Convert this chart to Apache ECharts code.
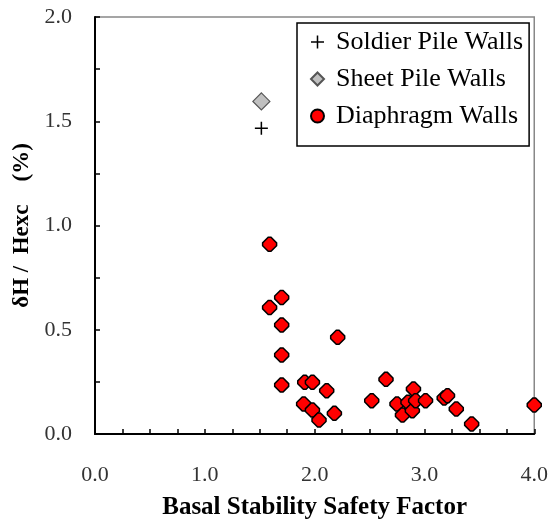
<!DOCTYPE html>
<html>
<head>
<meta charset="utf-8">
<script src="https://cdn.jsdelivr.net/npm/echarts@6/dist/echarts.min.js"></script>
<style>
html, body { margin: 0; padding: 0; background: #fff; }
#chart { width: 551px; height: 525px; }
</style>
</head>
<body>
<div id="chart"></div>
<script>
// series names
var seriesNames = ['Soldier Pile Walls', 'Sheet Pile Walls', 'Diaphragm Walls'];
// [safety factor, dH/Hexc %]
var soldierPile = [[1.515, 1.466]];
var sheetPile = [[1.515, 1.595]];
var diaphragm = [
    [1.59, 0.910], [1.70, 0.655], [1.59, 0.607], [1.70, 0.523], [2.21, 0.464],
    [1.70, 0.379], [1.70, 0.235], [1.91, 0.248], [1.98, 0.248], [2.11, 0.208],
    [1.90, 0.144], [1.98, 0.115], [2.04, 0.067], [2.18, 0.099], [2.52, 0.160],
    [2.65, 0.262], [2.75, 0.144], [2.80, 0.091], [2.85, 0.152], [2.90, 0.216],
    [2.89, 0.112], [2.92, 0.160], [3.01, 0.160], [3.18, 0.173], [3.21, 0.184],
    [3.29, 0.120], [3.43, 0.048], [4.00, 0.139]
];
var xTicks = [0, 4, 1];   // min, max, step
var yTicks = [0, 2, 0.5];

var plusPath = 'path://M5.3,0H6.7V5.3H12V6.7H6.7V12H5.3V6.7H0V5.3H5.3Z';
var dotPath = 'path://M4,0H6L10,4V6L6,10H4L0,6V4Z';
var serif = '"Liberation Serif", "DejaVu Serif", serif';

var mychart = echarts.init(document.getElementById('chart'));
var option = {
    animation: false,
    backgroundColor: '#fff',
    grid: {left: 95, right: 16, top: 17, bottom: 88, show: true, borderColor: '#888', borderWidth: 1.5},
    legend: {
        orient: 'vertical',
        left: 297,
        top: 23,
        padding: [5, 6, 16, 13],
        itemGap: 9,
        itemWidth: 13,
        itemHeight: 13,
        borderColor: '#000',
        borderWidth: 1.5,
        backgroundColor: '#fff',
        textStyle: {fontFamily: serif, fontSize: 26, color: '#000', lineHeight: 28, padding: [0, 0, 0, 7]},
        data: [
            {name: seriesNames[0], icon: plusPath},
            {name: seriesNames[1], icon: 'diamond'},
            {name: seriesNames[2], icon: 'circle'}
        ]
    },
    xAxis: {
        type: 'value',
        min: xTicks[0],
        max: xTicks[1],
        interval: xTicks[2],
        name: 'Basal Stability Safety Factor',
        nameLocation: 'middle',
        nameGap: 61,
        nameTextStyle: {fontFamily: serif, fontWeight: 'bold', fontSize: 25, color: '#000'},
        axisLine: {lineStyle: {color: '#000', width: 2}},
        axisTick: {inside: true, length: 5, lineStyle: {color: '#000', width: 1.5}},
        minorTick: {show: true, splitNumber: 4, length: 5, lineStyle: {color: '#000', width: 1.5}},
        axisLabel: {
            margin: 30,
            fontFamily: serif,
            fontSize: 22,
            color: '#333',
            formatter: function (v) { return v.toFixed(1); }
        },
        splitLine: {show: false}
    },
    yAxis: {
        type: 'value',
        min: yTicks[0],
        max: yTicks[1],
        interval: yTicks[2],
        name: 'δH /  Hexc    (%)',
        nameLocation: 'middle',
        nameGap: 53,
        nameTextStyle: {fontFamily: serif, fontWeight: 'bold', fontSize: 23, color: '#000'},
        axisLine: {lineStyle: {color: '#000', width: 2}},
        axisTick: {inside: true, length: 5, lineStyle: {color: '#000', width: 1.5}},
        minorTick: {show: true, splitNumber: 2, length: 5, lineStyle: {color: '#000', width: 1.5}},
        axisLabel: {
            margin: 23,
            fontFamily: serif,
            fontSize: 22,
            color: '#333',
            formatter: function (v) { return v.toFixed(1); }
        },
        splitLine: {show: false}
    },
    series: [
        {
            name: seriesNames[0],
            type: 'scatter',
            clip: false,
            symbol: plusPath,
            symbolSize: 13,
            itemStyle: {color: '#000', opacity: 1},
            data: soldierPile
        },
        {
            name: seriesNames[1],
            type: 'scatter',
            clip: false,
            symbol: 'diamond',
            symbolSize: 17,
            itemStyle: {color: '#c0c0c0', borderColor: '#555', borderWidth: 1.2, opacity: 1},
            data: sheetPile
        },
        {
            name: seriesNames[2],
            type: 'scatter',
            clip: false,
            symbol: dotPath,
            symbolSize: 14,
            itemStyle: {color: '#ff0000', borderColor: '#000', borderWidth: 1.5, opacity: 1},
            data: diaphragm
        }
    ]
};
mychart.setOption(option);
</script>
</body>
</html>
